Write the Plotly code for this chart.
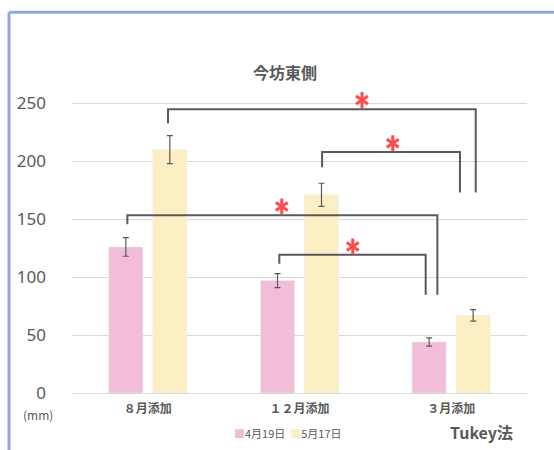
import plotly.graph_objects as go

# Growth by addition month (mm), two measurement dates
categories = ["８月添加", "１２月添加", "３月添加"]
series_names = ["4月19日", "5月17日"]
values_apr19 = [126, 97, 44]
values_may17 = [210, 171, 67]
err_apr19 = [8, 6, 3.5]
err_may17 = [12, 10, 5]
y_ticks = [0, 50, 100, 150, 200, 250]

# Significance brackets: (left x, right x, top y, left leg bottom, right leg bottom)
brackets = [
    (0.133, 2.162, 244.8, 232.8, 172.9),
    (1.149, 2.058, 208.0, 194.8, 172.9),
    (-0.135, 1.909, 153.3, 145.7, 84.7),
    (0.867, 1.832, 119.2, 111.5, 84.7),
]
# Significance marks (x, y)
star_x = [1.412, 1.615, 0.883, 1.351]
star_y = [252.8, 215.5, 160.9, 126.4]

PINK = "#F2BDD7"
YELLOW = "#FDEFC4"
GRAY = "#595959"
RED = "#FF4B4B"
CJK = "Noto Sans CJK JP"

xs = list(range(len(categories)))
bar_w = 0.224
shift = 0.145

# pixel geometry of the plotting area
PX_PER_UNIT = 290.0 / 250.0
Y_TOP = 258
PLOT_L, PLOT_R, PLOT_B = 72, 527, 393
plot_h = Y_TOP * PX_PER_UNIT
plot_w = PLOT_R - PLOT_L


def px_x(px):
    return (px - PLOT_L) / plot_w


def px_y(py):
    return (PLOT_B - py) / plot_h


fig = go.Figure()
fig.add_trace(go.Bar(
    x=xs, y=values_apr19, name=series_names[0], marker_color=PINK,
    width=bar_w, offset=-shift - bar_w / 2,
    error_y=dict(type="data", array=err_apr19, color=GRAY, thickness=1.2, width=3),
))
fig.add_trace(go.Bar(
    x=xs, y=values_may17, name=series_names[1], marker_color=YELLOW,
    width=bar_w, offset=shift - bar_w / 2,
    error_y=dict(type="data", array=err_may17, color=GRAY, thickness=1.2, width=3),
))

for (x0, x1, top, b0, b1) in brackets:
    fig.add_trace(go.Scatter(
        x=[x0, x0, x1, x1], y=[b0, top, top, b1], mode="lines",
        line=dict(color=GRAY, width=2), showlegend=False, hoverinfo="skip",
    ))

# six-armed asterisk built from two overlapping Y-shaped markers
for sym in ["y-up-open", "y-down-open"]:
    fig.add_trace(go.Scatter(
        x=star_x, y=star_y, mode="markers", cliponaxis=False,
        marker=dict(symbol=sym, size=10, color=RED, line=dict(color=RED, width=3)),
        showlegend=False, hoverinfo="skip",
    ))

fig.update_layout(
    width=554, height=450,
    margin=dict(l=PLOT_L, r=554 - PLOT_R, t=PLOT_B - plot_h, b=450 - PLOT_B),
    paper_bgcolor="white", plot_bgcolor="white",
    barmode="overlay",
    showlegend=False,
    title=dict(text="<b>今坊東側</b>", x=285 / 554, xanchor="center",
               y=1 - 73 / 450, yanchor="middle",
               font=dict(family=CJK, size=16, color=GRAY)),
    xaxis=dict(range=[-0.5, 2.5], tickvals=xs,
               ticktext=["<b>" + c + "</b>" for c in categories],
               tickfont=dict(family=CJK, size=12, color=GRAY),
               showgrid=False, zeroline=False, showline=False, ticks="",
               ticklabelstandoff=7),
    yaxis=dict(range=[0, Y_TOP], tickvals=y_ticks,
               tickfont=dict(family="Noto Sans", size=17, color=GRAY),
               gridcolor="#D9D9D9", gridwidth=1, zeroline=True,
               zerolinecolor="#D9D9D9", zerolinewidth=1, ticks="",
               ticklabelstandoff=25),
)

# legend drawn as coloured squares with labels
legend_text = (f"<span style='color:{PINK};font-size:11px'>■</span>{series_names[0]}"
               f"  <span style='color:{YELLOW};font-size:11px'>■</span>{series_names[1]}")
fig.add_annotation(text=legend_text, xref="paper", yref="paper",
                   x=px_x(288), y=px_y(433),
                   xanchor="center", yanchor="middle", showarrow=False,
                   font=dict(family=CJK, size=11, color=GRAY))

fig.add_annotation(text="(mm)", xref="paper", yref="paper",
                   x=px_x(38), y=px_y(415),
                   xanchor="center", yanchor="middle", showarrow=False,
                   font=dict(family=CJK, size=12, color=GRAY))
fig.add_annotation(text="<b>Tukey法</b>", xref="paper", yref="paper",
                   x=px_x(481), y=px_y(432),
                   xanchor="center", yanchor="middle", showarrow=False,
                   font=dict(family=CJK, size=16, color=GRAY))

# Blue frame along the top and left edges
fig.add_shape(type="line", xref="paper", yref="paper",
              x0=px_x(9), x1=px_x(560), y0=px_y(12), y1=px_y(12),
              line=dict(color="#8EAADB", width=3))
fig.add_shape(type="line", xref="paper", yref="paper",
              x0=px_x(9), x1=px_x(9), y0=px_y(12), y1=px_y(460),
              line=dict(color="#8EAADB", width=3))

fig.write_html("out.html")
